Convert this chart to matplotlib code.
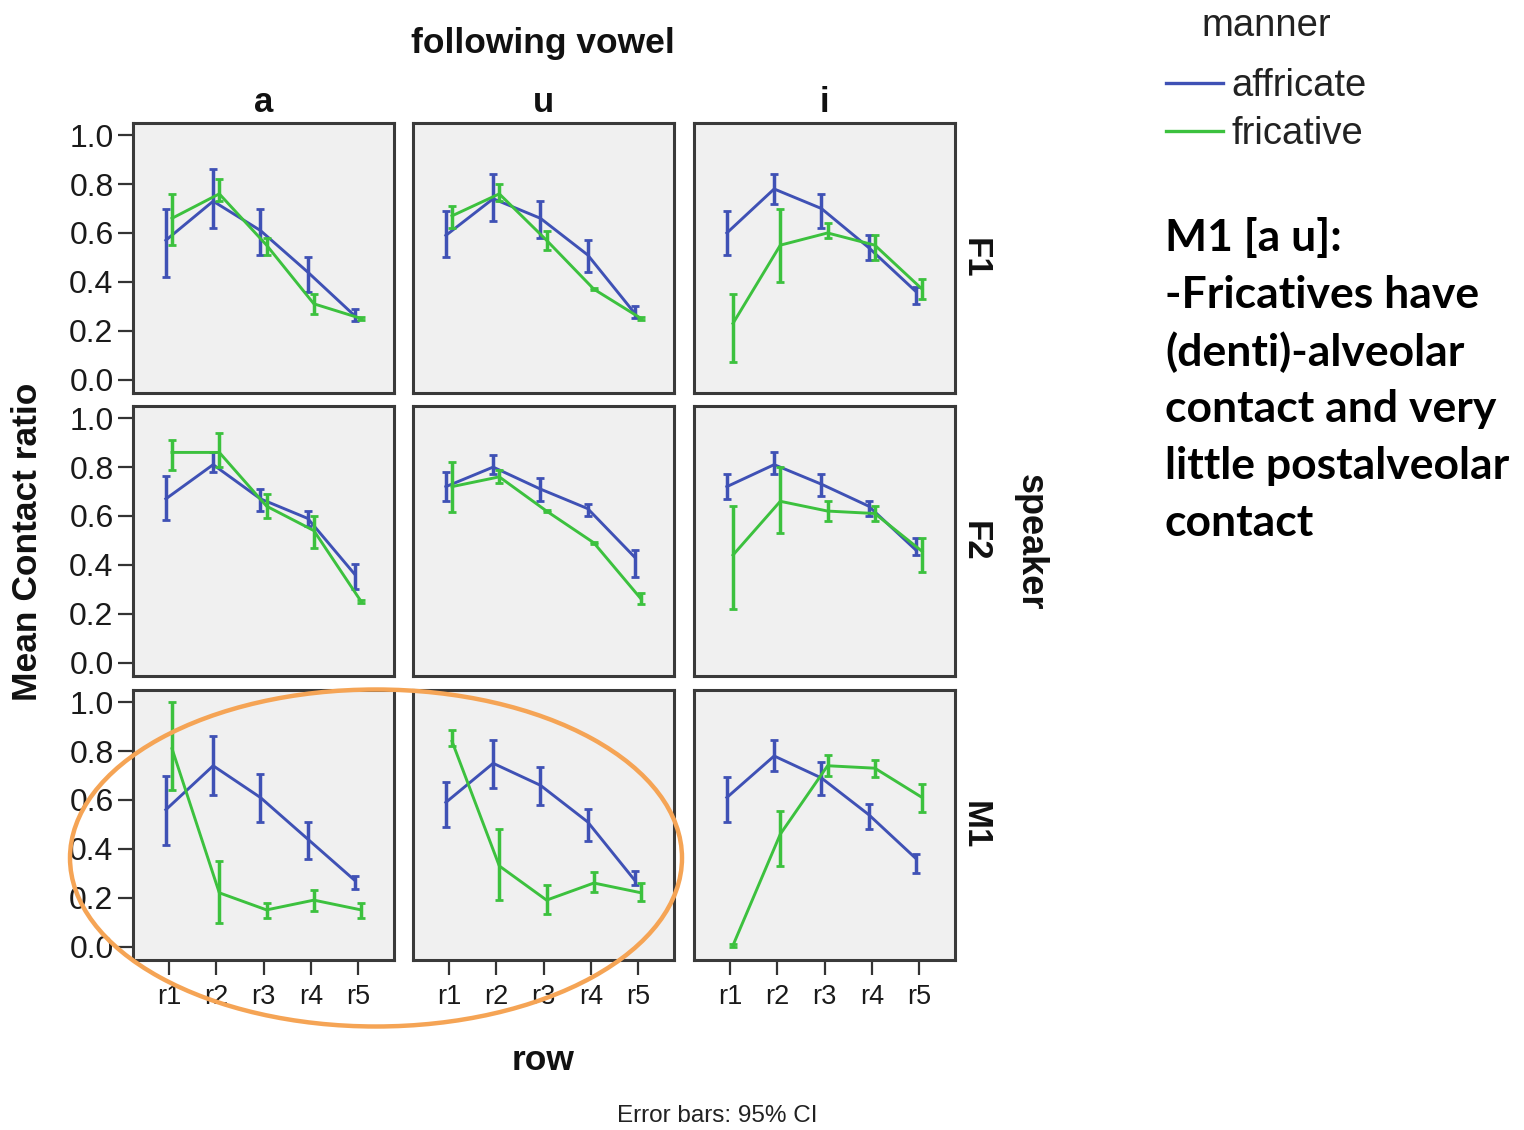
import matplotlib
matplotlib.use("Agg")
import matplotlib.pyplot as plt
from matplotlib import font_manager
from matplotlib.patches import Ellipse
import numpy as np

# ---------------- data ----------------
rows = ["r1", "r2", "r3", "r4", "r5"]
vowels = ["a", "u", "i"]
speakers = ["F1", "F2", "M1"]
manners = ["affricate", "fricative"]

# each list: [vowel a, vowel u, vowel i] x [r1..r5]
F1_affricate_mean = [[0.57, 0.73, 0.61, 0.44, 0.26], [0.59, 0.74, 0.66, 0.51, 0.27], [0.60, 0.78, 0.70, 0.54, 0.36]]
F1_affricate_lo   = [[0.42, 0.62, 0.51, 0.36, 0.24], [0.50, 0.65, 0.58, 0.44, 0.25], [0.51, 0.72, 0.62, 0.49, 0.31]]
F1_affricate_hi   = [[0.70, 0.86, 0.70, 0.50, 0.29], [0.69, 0.84, 0.73, 0.57, 0.30], [0.69, 0.84, 0.76, 0.59, 0.38]]
F1_fricative_mean = [[0.66, 0.76, 0.55, 0.31, 0.25], [0.67, 0.76, 0.57, 0.37, 0.25], [0.23, 0.55, 0.60, 0.55, 0.37]]
F1_fricative_lo   = [[0.55, 0.73, 0.51, 0.27, 0.245], [0.62, 0.73, 0.53, 0.365, 0.245], [0.07, 0.40, 0.58, 0.49, 0.33]]
F1_fricative_hi   = [[0.76, 0.82, 0.58, 0.35, 0.255], [0.71, 0.80, 0.61, 0.375, 0.255], [0.35, 0.70, 0.64, 0.59, 0.41]]

F2_affricate_mean = [[0.67, 0.81, 0.67, 0.59, 0.36], [0.72, 0.80, 0.71, 0.63, 0.43], [0.72, 0.81, 0.73, 0.64, 0.46]]
F2_affricate_lo   = [[0.585, 0.78, 0.62, 0.56, 0.30], [0.66, 0.77, 0.66, 0.60, 0.35], [0.67, 0.77, 0.68, 0.60, 0.44]]
F2_affricate_hi   = [[0.765, 0.86, 0.71, 0.62, 0.405], [0.78, 0.85, 0.755, 0.65, 0.46], [0.77, 0.86, 0.77, 0.66, 0.51]]
F2_fricative_mean = [[0.86, 0.86, 0.64, 0.54, 0.25], [0.72, 0.76, 0.62, 0.49, 0.26], [0.44, 0.66, 0.62, 0.61, 0.455]]
F2_fricative_lo   = [[0.79, 0.80, 0.59, 0.47, 0.245], [0.615, 0.735, 0.615, 0.485, 0.24], [0.22, 0.53, 0.58, 0.58, 0.37]]
F2_fricative_hi   = [[0.91, 0.94, 0.69, 0.60, 0.255], [0.82, 0.79, 0.625, 0.495, 0.285], [0.64, 0.80, 0.66, 0.64, 0.51]]

M1_affricate_mean = [[0.56, 0.74, 0.61, 0.44, 0.27], [0.59, 0.75, 0.66, 0.51, 0.27], [0.61, 0.78, 0.69, 0.54, 0.36]]
M1_affricate_lo   = [[0.415, 0.62, 0.51, 0.36, 0.235], [0.49, 0.65, 0.58, 0.43, 0.25], [0.51, 0.72, 0.62, 0.48, 0.30]]
M1_affricate_hi   = [[0.70, 0.86, 0.705, 0.51, 0.29], [0.675, 0.845, 0.735, 0.565, 0.31], [0.695, 0.845, 0.755, 0.585, 0.38]]
M1_fricative_mean = [[0.81, 0.22, 0.15, 0.19, 0.15], [0.84, 0.33, 0.19, 0.26, 0.22], [0.005, 0.46, 0.74, 0.73, 0.61]]
M1_fricative_lo   = [[0.64, 0.095, 0.115, 0.145, 0.115], [0.82, 0.19, 0.135, 0.225, 0.185], [0.0, 0.33, 0.70, 0.695, 0.55]]
M1_fricative_hi   = [[1.00, 0.35, 0.18, 0.23, 0.18], [0.885, 0.48, 0.25, 0.305, 0.26], [0.01, 0.555, 0.785, 0.765, 0.665]]

yticks = [0.0, 0.2, 0.4, 0.6, 0.8, 1.0]
ytick_labels = ["0.0", "0.2", "0.4", "0.6", "0.8", "1.0"]

note_lines = ["M1 [a u]:", "-Fricatives have", "(denti)-alveolar", "contact and very",
              "little postalveolar", "contact"]

data = {
    "F1": {"affricate": (F1_affricate_mean, F1_affricate_lo, F1_affricate_hi),
           "fricative": (F1_fricative_mean, F1_fricative_lo, F1_fricative_hi)},
    "F2": {"affricate": (F2_affricate_mean, F2_affricate_lo, F2_affricate_hi),
           "fricative": (F2_fricative_mean, F2_fricative_lo, F2_fricative_hi)},
    "M1": {"affricate": (M1_affricate_mean, M1_affricate_lo, M1_affricate_hi),
           "fricative": (M1_fricative_mean, M1_fricative_lo, M1_fricative_hi)},
}

# ---------------- fonts ----------------
avail = {f.name for f in font_manager.fontManager.ttflist}
def pick(*names):
    for n in names:
        if n in avail:
            return n
    return "DejaVu Sans"

SANS = pick("Liberation Sans", "Arimo", "DejaVu Sans")
NARROW = pick("Liberation Sans Narrow", "Liberation Sans", "DejaVu Sans")
NOTE = pick("Lato", "Open Sans", "Liberation Sans")
plt.rcParams["font.family"] = [SANS, "DejaVu Sans"]

colors = {"affricate": "#3F51B5", "fricative": "#3CC13E"}
dodge = {"affricate": -0.065, "fricative": 0.065}

W, H = 1524, 1130
fig = plt.figure(figsize=(W / 100, H / 100), dpi=100)
fig.patch.set_facecolor("white")

col_left = [133, 413, 694]
row_top = [123, 406, 690]
pw, ph = 261, 270

def fx(px):
    return px / W
def fy(py):
    return 1 - py / H

x = np.arange(1, 6)
handles = {}
for r, sp in enumerate(speakers):
    for c, vw in enumerate(vowels):
        ax = fig.add_axes([fx(col_left[c]), fy(row_top[r] + ph), pw / W, ph / H])
        ax.set_facecolor("#F0F0F0")
        for m in manners:
            mean, lo, hi = data[sp][m]
            mu = np.array(mean[c]); l = np.array(lo[c]); h = np.array(hi[c])
            z = 3 if m == "fricative" else 2
            eb = ax.errorbar(x + dodge[m], mu, yerr=[mu - l, h - mu], fmt="-",
                             color=colors[m], lw=2.1, elinewidth=2.5,
                             capsize=2.6, capthick=2.0, zorder=z)
            handles[m] = eb.lines[0]
        ax.set_xlim(0.24, 5.76)
        ax.set_ylim(-0.055, 1.05)
        for s in ax.spines.values():
            s.set_color("#3A3A3A")
            s.set_linewidth(2.2)
        if c == 0:
            ax.set_yticks(yticks)
            ax.set_yticklabels(ytick_labels, fontsize=23, color="#1a1a1a", family=SANS)
            ax.tick_params(axis="y", length=11, width=1.6, color="#333333", pad=3)
        else:
            ax.set_yticks([])
        if r == 2:
            ax.set_xticks(x)
            ax.set_xticklabels(rows, fontsize=19.5, color="#1a1a1a", family=NARROW)
            ax.tick_params(axis="x", length=11, width=1.6, color="#333333", pad=6)
        else:
            ax.set_xticks([])

# ---------------- texts ----------------
bold = dict(fontweight="bold", color="#111111", family=SANS)
fig.text(fx(543), fy(43), "following vowel", ha="center", va="center", fontsize=25.5, **bold)
for c, vw in enumerate(vowels):
    fig.text(fx(col_left[c] + pw / 2), fy(103), vw, ha="center", va="center", fontsize=25, **bold)
for r, sp in enumerate(speakers):
    fig.text(fx(975), fy(row_top[r] + ph / 2), sp, ha="center", va="center",
             rotation=-90, fontsize=25, **bold)
fig.text(fx(1030), fy(542), "speaker", ha="center", va="center", rotation=-90, fontsize=26, **bold)
fig.text(fx(28), fy(542), "Mean Contact ratio", ha="center", va="center", rotation=90,
         fontsize=25.5, fontweight="bold", color="#111111", family=NARROW)
fig.text(fx(543), fy(1060), "row", ha="center", va="center", fontsize=25.5,
         fontweight="bold", color="#111111", family=NARROW)
fig.text(fx(717), fy(1116), "Error bars: 95% CI", ha="center", va="center", fontsize=17.5,
         color="#222222", family=NARROW)

# legend
fig.text(fx(1266), fy(24), "manner", ha="center", va="baseline", fontsize=27.5,
         color="#222222", family=SANS)
fig.texts[-1].set_y(fy(36))
leg = fig.legend([handles[m] for m in manners], manners,
                 loc="upper left", bbox_to_anchor=(fx(1166), fy(68)), frameon=False,
                 fontsize=27.5, handlelength=1.5, handletextpad=0.22,
                 labelspacing=0.32, borderaxespad=0, borderpad=0)
for t in leg.get_texts():
    t.set_color("#222222")
for ln in leg.get_lines():
    ln.set_linewidth(2.4)

# note text
for i, line in enumerate(note_lines):
    fig.text(fx(1165), fy(238 + i * 57), line, ha="left", va="center", fontsize=32,
             fontweight="bold", color="#000000", family=NOTE)

# highlight ellipse
ell = Ellipse((fx(376), fy(858)), width=612 / W, height=337 / H, transform=fig.transFigure,
              fill=False, edgecolor="#F5A455", linewidth=3.2, zorder=100)
fig.add_artist(ell)

fig.savefig("out.png", dpi=100)
